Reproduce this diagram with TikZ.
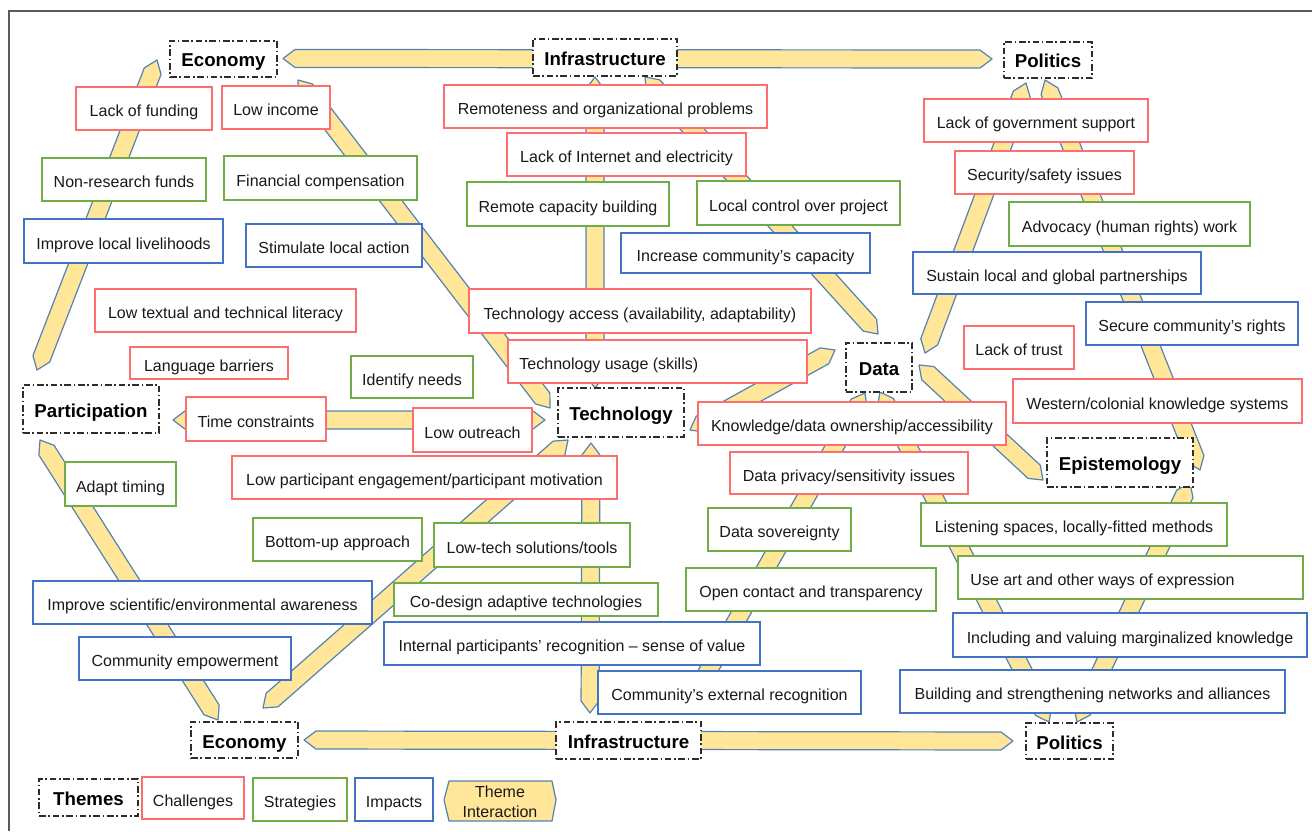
\documentclass[tikz,border=0pt]{standalone}
\usepackage{fontspec}
\setmainfont{Liberation Sans}
\usetikzlibrary{calc}
\definecolor{arrfill}{RGB}{255,230,153}
\definecolor{arrdraw}{RGB}{84,130,180}
\definecolor{chal}{RGB}{255,110,110}
\definecolor{strat}{RGB}{112,173,71}
\definecolor{imp}{RGB}{68,114,196}
\definecolor{themec}{RGB}{45,45,45}
\definecolor{txt}{RGB}{25,25,25}
\definecolor{framec}{RGB}{90,90,90}
\tikzset{
  tharrow/.style={fill=arrfill, draw=arrdraw, line width=0.9pt, line join=round},
  basebox/.style={fill=white, line width=0.9pt, inner sep=0pt, text=txt, text height=12pt, text depth=0pt},
  chalbox/.style={basebox, draw=chal},
  stratbox/.style={basebox, draw=strat},
  impbox/.style={basebox, draw=imp},
  themebox/.style={fill=white, draw=themec, line width=1.1pt, inner sep=0pt,
    dash pattern=on 5pt off 2pt on 1.2pt off 2pt, text height=12pt, text depth=0pt,
    font=\fontsize{14}{16}\selectfont\bfseries, text=black},
}
\newcommand\tharr[2]{\filldraw[tharrow] (#1) -- ($(#1)!9pt!(#2)!6.75pt!90:(#2)$) -- ($(#2)!9pt!(#1)!6.75pt!-90:(#1)$) -- (#2) -- ($(#2)!9pt!(#1)!6.75pt!90:(#1)$) -- ($(#1)!9pt!(#2)!6.75pt!-90:(#2)$) -- cycle;}
\newcommand\bx[7]{\node[#2, minimum width={(#5-#3)*0.75pt}, minimum height={(#6-#4)*0.75pt}] (#1) at ({(#3+#5)/2},{(#4+#6)/2}) {#7};}
\begin{document}
\begin{tikzpicture}[x=0.75pt, y=-0.75pt, font=\fontsize{12}{14}\selectfont]
\useasboundingbox (0,0) rectangle (1312,831);
% frame
\coordinate (frbl) at (9,831);
\coordinate (frtl) at (9,11);
\coordinate (frtr) at (1312,11);
\draw[framec, line width=1.2pt] (frbl) -- (frtl) -- (frtr);

% arrow end points
\coordinate (a1s) at (283,58.5);  \coordinate (a1e) at (992,59);
\coordinate (a2s) at (304,740);   \coordinate (a2e) at (1013,741);
\coordinate (a3s) at (157,60);    \coordinate (a3e) at (37,370);
\coordinate (a4s) at (40,440);    \coordinate (a4e) at (218,720);
\coordinate (a5s) at (298,80);    \coordinate (a5e) at (550,408);
\coordinate (a6s) at (595,77);    \coordinate (a6e) at (595,388);
\coordinate (a7s) at (645,77);    \coordinate (a7e) at (878,334);
\coordinate (a8s) at (1026,83);   \coordinate (a8e) at (925,353);
\coordinate (a9s) at (1045,80);   \coordinate (a9e) at (1200,470);
\coordinate (a10s) at (173,420);  \coordinate (a10e) at (545,420);
\coordinate (a11s) at (835,350);  \coordinate (a11e) at (690,430);
\coordinate (a12s) at (568,440);  \coordinate (a12e) at (263,708);
\coordinate (a13s) at (591,443);  \coordinate (a13e) at (590,713);
\coordinate (a14s) at (865,393);  \coordinate (a14e) at (690,703);
\coordinate (a15s) at (880,392);  \coordinate (a15e) at (1049,722);
\coordinate (a16s) at (919,365);  \coordinate (a16e) at (1043,480);
\coordinate (a17s) at (1190,483); \coordinate (a17e) at (1077,722);

\tharr{a1s}{a1e}
\tharr{a2s}{a2e}
\tharr{a3s}{a3e}
\tharr{a4s}{a4e}
\tharr{a5s}{a5e}
\tharr{a6s}{a6e}
\tharr{a7s}{a7e}
\tharr{a8s}{a8e}
\tharr{a9s}{a9e}
\tharr{a10s}{a10e}
\tharr{a11s}{a11e}
\tharr{a12s}{a12e}
\tharr{a13s}{a13e}
\tharr{a14s}{a14e}
\tharr{a15s}{a15e}
\tharr{a16s}{a16e}
\tharr{a17s}{a17e}

% challenges
\bx{c1}{chalbox}{76}{87}{212}{130}{Lack of funding}
\bx{c2}{chalbox}{222}{86}{330}{129}{Low income}
\bx{c3}{chalbox}{444}{85}{767}{128}{Remoteness and organizational problems}
\bx{c4}{chalbox}{507}{133}{746}{176}{Lack of Internet and electricity}
\bx{c5}{chalbox}{924}{99}{1148}{142}{Lack of government support}
\bx{c6}{chalbox}{955}{151}{1134}{194}{Security/safety issues}
\bx{c7}{chalbox}{95}{289}{356}{332}{Low textual and technical literacy}
\bx{c8}{chalbox}{130}{347}{288}{379}{Language barriers}
\bx{c9}{chalbox}{186}{397}{326}{441}{Time constraints}
\bx{c10}{chalbox}{413}{408}{532}{452}{Low outreach}
\bx{c11}{chalbox}{232}{456}{617}{499}{Low participant engagement/participant motivation}
\bx{c12}{chalbox}{469}{289}{811}{333}{Technology access (availability, adaptability)}
\bx{c13}{chalbox}{508}{340}{807}{383}{Technology usage (skills)\hspace{73pt}\null}
\bx{c14}{chalbox}{698}{402}{1006}{445}{Knowledge/data ownership/accessibility}
\bx{c15}{chalbox}{730}{452}{968}{494}{Data privacy/sensitivity issues}
\bx{c16}{chalbox}{964}{326}{1074}{369}{Lack of trust}
\bx{c17}{chalbox}{1013}{379}{1302}{423}{Western/colonial knowledge systems}

% strategies
\bx{s1}{stratbox}{42}{158}{206}{201}{Non-research funds}
\bx{s2}{stratbox}{224}{156}{417}{200}{Financial compensation}
\bx{s3}{stratbox}{467}{182}{669}{226}{Remote capacity building}
\bx{s4}{stratbox}{697}{181}{900}{225}{Local control over project}
\bx{s5}{stratbox}{1009}{202}{1250}{246}{Advocacy (human rights) work}
\bx{s6}{stratbox}{351}{356}{473}{398}{Identify needs}
\bx{s7}{stratbox}{65}{462}{176}{506}{Adapt timing}
\bx{s8}{stratbox}{253}{518}{422}{561}{Bottom-up approach}
\bx{s9}{stratbox}{434}{523}{630}{567}{Low-tech solutions/tools}
\bx{s10}{stratbox}{394}{583}{658}{616}{Co-design adaptive technologies}
\bx{s11}{stratbox}{708}{508}{851}{551}{Data sovereignty}
\bx{s12}{stratbox}{686}{568}{936}{611}{Open contact and transparency}
\bx{s13}{stratbox}{921}{503}{1227}{546}{Listening spaces, locally-fitted methods}
\bx{s14}{stratbox}{958}{556}{1303}{599}{Use art and other ways of expression\hspace{42pt}\null}

% impacts
\bx{i1}{impbox}{24}{219}{223}{263}{Improve local livelihoods}
\bx{i2}{impbox}{246}{224}{422}{267}{Stimulate local action}
\bx{i3}{impbox}{621}{233}{870}{273}{Increase community’s capacity}
\bx{i4}{impbox}{913}{252}{1201}{294}{Sustain local and global partnerships}
\bx{i5}{impbox}{1086}{302}{1298}{345}{Secure community’s rights}
\bx{i6}{impbox}{33}{581}{372}{624}{Improve scientific/environmental awareness}
\bx{i7}{impbox}{79}{637}{291}{680}{Community empowerment}
\bx{i8}{impbox}{384}{622}{760}{665}{Internal participants’ recognition – sense of value}
\bx{i9}{impbox}{598}{671}{861}{714}{Community’s external recognition}
\bx{i10}{impbox}{953}{613}{1307}{657}{Including and valuing marginalized knowledge}
\bx{i11}{impbox}{900}{670}{1285}{713}{Building and strengthening networks and alliances}

% themes
\bx{econtop}{themebox}{170}{41}{277}{77}{Economy}
\bx{infratop}{themebox}{533}{39}{677}{76}{Infrastructure}
\bx{poltop}{themebox}{1004}{42}{1092}{78}{Politics}
\bx{part}{themebox}{23}{385}{159}{433}{Participation}
\bx{tech}{themebox}{558}{388}{684}{437}{Technology}
\bx{data}{themebox}{846}{343}{912}{392}{Data}
\bx{epist}{themebox}{1047}{438}{1193}{487}{Epistemology}
\bx{econbot}{themebox}{191}{722}{298}{758}{Economy}
\bx{infrabot}{themebox}{556}{722}{701}{759}{Infrastructure}
\bx{polbot}{themebox}{1026}{723}{1113}{759}{Politics}

% legend
\bx{legthemes}{themebox}{39}{779}{138}{816}{Themes}
\bx{legchal}{chalbox}{142}{777}{244}{819}{Challenges}
\bx{legstrat}{stratbox}{253}{778}{347}{821}{Strategies}
\bx{legimp}{impbox}{355}{778}{433}{821}{Impacts}
\filldraw[tharrow] (444,800) -- (449,781) -- (552,781) -- (556,800) -- (552,821) -- (449,821) -- cycle;
\node[align=center, font=\fontsize{12}{15}\selectfont, text=txt] (legti) at (500,802) {Theme\\Interaction};
\end{tikzpicture}
\end{document}
